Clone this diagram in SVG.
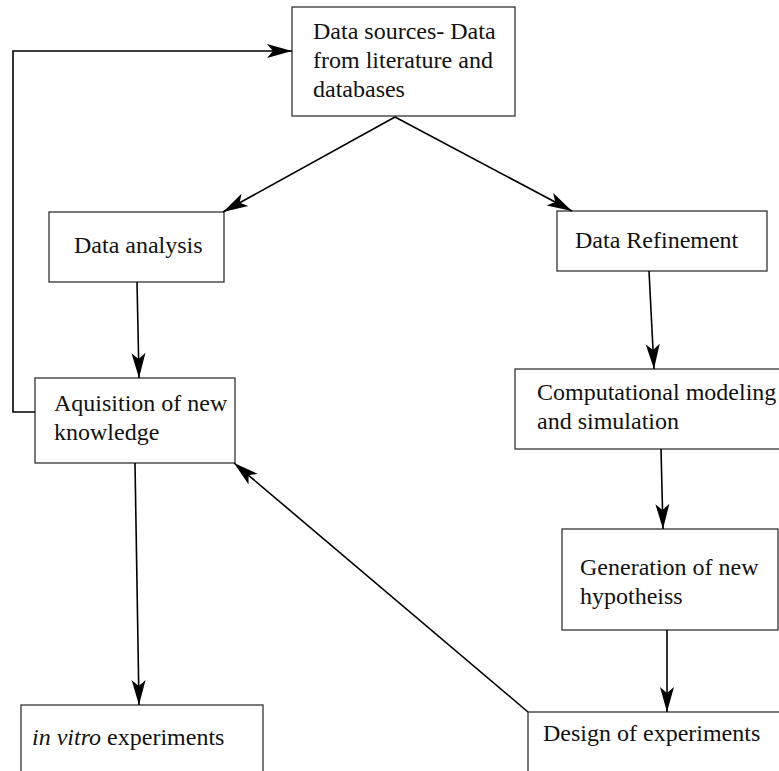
<svg xmlns="http://www.w3.org/2000/svg" width="779" height="771" viewBox="0 0 779 771">
<style>
.box{fill:#fff;stroke:#333;stroke-width:1.3}
.t{font-family:"Liberation Serif","Times New Roman",serif;font-size:24px;fill:#111}
.c{fill:none;stroke:#000;stroke-width:1.6}
</style>
<defs>
<marker id="ah" viewBox="-26 -8 27 16" markerWidth="27" markerHeight="16" refX="0" refY="0" markerUnits="userSpaceOnUse" orient="auto">
<path d="M0,0 L-25,-7 L-19,0 L-25,7 Z" fill="#000"/>
</marker>
</defs>
<rect width="779" height="771" fill="#fff"/>
<g id="node-sources">
<rect class="box" x="292" y="7" width="223" height="109"/>
<text class="t" x="313" y="39">Data sources- Data</text>
<text class="t" x="313" y="68">from literature and</text>
<text class="t" x="313" y="97">databases</text>
</g>
<g id="node-analysis">
<rect class="box" x="49" y="212" width="175" height="70"/>
<text class="t" x="74" y="253">Data analysis</text>
</g>
<g id="node-refinement">
<rect class="box" x="557" y="211" width="210" height="60"/>
<text class="t" x="575" y="248">Data Refinement</text>
</g>
<g id="node-aquisition">
<rect class="box" x="35" y="378" width="200" height="85"/>
<text class="t" x="54" y="411">Aquisition of new</text>
<text class="t" x="54" y="440">knowledge</text>
</g>
<g id="node-computational">
<rect class="box" x="515" y="369" width="270" height="80"/>
<text class="t" x="537" y="400">Computational modeling</text>
<text class="t" x="537" y="429">and simulation</text>
</g>
<g id="node-generation">
<rect class="box" x="562" y="529" width="216" height="101"/>
<text class="t" x="580" y="575">Generation of new</text>
<text class="t" x="580" y="604">hypotheiss</text>
</g>
<g id="node-invitro">
<rect class="box" x="21" y="705" width="242" height="80"/>
<text class="t" x="32" y="745"><tspan font-style="italic">in vitro</tspan> experiments</text>
</g>
<g id="node-design">
<rect class="box" x="528" y="712" width="260" height="80"/>
<text class="t" x="543" y="741">Design of experiments</text>
</g>
<g id="connectors">
<path class="c" d="M395,117 L223,212" marker-end="url(#ah)"/>
<path class="c" d="M395,117 L572,211" marker-end="url(#ah)"/>
<path class="c" d="M137,282 L139,378" marker-end="url(#ah)"/>
<path class="c" d="M649,271 L654,369" marker-end="url(#ah)"/>
<path class="c" d="M661,449 L663,529" marker-end="url(#ah)"/>
<path class="c" d="M667,630 L667,712" marker-end="url(#ah)"/>
<path class="c" d="M135,463 L139,705" marker-end="url(#ah)"/>
<path class="c" d="M528,712 L234,463" marker-end="url(#ah)"/>
<path class="c" d="M35,412 L13,412 L13,51 L292,51" marker-end="url(#ah)"/>
</g>
</svg>
